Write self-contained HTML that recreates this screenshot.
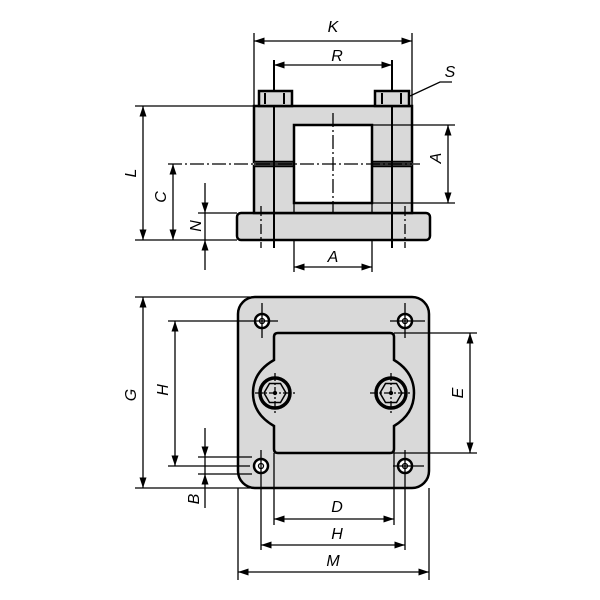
<!DOCTYPE html>
<html><head><meta charset="utf-8"><style>
body{margin:0;background:#fff}
svg{display:block}
text{font-family:"Liberation Sans",sans-serif;font-style:italic;font-size:16px;fill:#000}
</style></head><body>
<svg width="600" height="600" viewBox="0 0 600 600" xmlns="http://www.w3.org/2000/svg">
<defs>
<marker id="a" viewBox="0 0 12 8" refX="12" refY="4" markerWidth="12" markerHeight="7" orient="auto-start-reverse" markerUnits="userSpaceOnUse"><path d="M0,0 L12,4 L0,8z" fill="#000"/></marker>
</defs>
<g stroke="#000" fill="none" stroke-width="1.3">
<rect x="237" y="213" width="193" height="27" rx="4" fill="#d9d9d9" stroke-width="2.5"/>
<path d="M254,106 H412 V162 H254 Z" fill="#d9d9d9" stroke-width="2.5"/>
<path d="M254,166 H412 V213 H254 Z" fill="#d9d9d9" stroke-width="2.5"/>
<rect x="254" y="162" width="158" height="4" fill="#333" stroke="none"/>
<rect x="294" y="125" width="78" height="78" fill="#fff" stroke-width="2.5"/>
<line x1="294" y1="203" x2="294" y2="213"/>
<line x1="372" y1="203" x2="372" y2="213"/>
<line x1="274" y1="60" x2="274" y2="248" stroke-width="2"/>
<line x1="392" y1="60" x2="392" y2="248" stroke-width="2"/>
<rect x="259" y="91" width="33" height="15" fill="#d9d9d9" stroke-width="2.5"/>
<rect x="375" y="91" width="34" height="15" fill="#d9d9d9" stroke-width="2.5"/>
<line x1="265" y1="93" x2="265" y2="104" stroke-width="2"/>
<line x1="284" y1="93" x2="284" y2="104" stroke-width="2"/>
<line x1="382" y1="93" x2="382" y2="104" stroke-width="2"/>
<line x1="401" y1="93" x2="401" y2="104" stroke-width="2"/>
<line x1="168" y1="164" x2="420" y2="164" stroke-dasharray="14,3,2,3"/>
<line x1="333" y1="113" x2="333" y2="213" stroke-dasharray="14,3,2,3"/>
<line x1="261" y1="206" x2="261" y2="248" stroke-dasharray="10,3,2,3"/>
<line x1="405" y1="206" x2="405" y2="248" stroke-dasharray="10,3,2,3"/>
<line x1="254" y1="33" x2="254" y2="106"/><line x1="412" y1="33" x2="412" y2="106"/>
<line x1="254" y1="41" x2="412" y2="41" marker-start="url(#a)" marker-end="url(#a)"/>
<line x1="274" y1="65" x2="392" y2="65" marker-start="url(#a)" marker-end="url(#a)"/>
<polyline points="410,96 440,82 452,82"/>
<line x1="135" y1="106" x2="254" y2="106"/><line x1="135" y1="240" x2="237" y2="240"/>
<line x1="143" y1="106" x2="143" y2="240" marker-start="url(#a)" marker-end="url(#a)"/>
<line x1="173" y1="164" x2="173" y2="240" marker-start="url(#a)" marker-end="url(#a)"/>
<line x1="198" y1="213" x2="237" y2="213"/>
<line x1="205" y1="183" x2="205" y2="213" marker-end="url(#a)"/>
<line x1="205" y1="270" x2="205" y2="240" marker-end="url(#a)"/>
<line x1="205" y1="213" x2="205" y2="240"/>
<line x1="372" y1="125" x2="455" y2="125"/><line x1="372" y1="203" x2="455" y2="203"/>
<line x1="448" y1="125" x2="448" y2="203" marker-start="url(#a)" marker-end="url(#a)"/>
<line x1="294" y1="240" x2="294" y2="272"/><line x1="372" y1="240" x2="372" y2="272"/>
<line x1="294" y1="267" x2="372" y2="267" marker-start="url(#a)" marker-end="url(#a)"/>

<rect x="238" y="297" width="191" height="191" rx="17" fill="#d9d9d9" stroke-width="2.5"/>
<path d="M278,333 H390 Q394,333 394,337 V360 Q414,372 414,393 Q414,414 394,426 V449 Q394,453 390,453 H278 Q274,453 274,449 V426 Q253,414 253,393 Q253,372 274,360 V337 Q274,333 278,333 Z" fill="#d9d9d9" stroke-width="2.5"/>
<circle cx="275" cy="393" r="15" fill="#d9d9d9" stroke-width="3.5"/>
<circle cx="391" cy="393" r="15" fill="#d9d9d9" stroke-width="3.5"/>
<polygon points="264,393 269.5,383.5 280.5,383.5 286,393 280.5,402.5 269.5,402.5" stroke-width="1.5"/>
<polygon points="380,393 385.5,383.5 396.5,383.5 402,393 396.5,402.5 385.5,402.5" stroke-width="1.5"/>
<g stroke-dasharray="8,2,2,2">
<line x1="255" y1="393" x2="296" y2="393"/><line x1="275" y1="373" x2="275" y2="413"/>
<line x1="370" y1="393" x2="411" y2="393"/><line x1="391" y1="373" x2="391" y2="413"/>
</g>
<circle cx="275" cy="393" r="1.5" fill="#000"/><circle cx="391" cy="393" r="1.5" fill="#000"/>
<g fill="#fff" stroke-width="2.5">
<circle cx="262" cy="321" r="7"/><circle cx="405" cy="321" r="7"/>
<circle cx="261" cy="466" r="7"/><circle cx="405" cy="466" r="7"/>
</g>
<g>
<circle cx="262" cy="321" r="2.5"/><circle cx="405" cy="321" r="2.5"/>
<circle cx="261" cy="466" r="2.5"/><circle cx="405" cy="466" r="2.5"/>
<line x1="250" y1="321" x2="278" y2="321"/><line x1="262" y1="303" x2="262" y2="338"/>
<line x1="390" y1="321" x2="425" y2="321"/><line x1="405" y1="303" x2="405" y2="338"/>
<line x1="405" y1="450" x2="405" y2="550"/><line x1="393" y1="466" x2="424" y2="466"/>
<line x1="261" y1="450" x2="261" y2="550"/>
</g>
<line x1="135" y1="297" x2="250" y2="297"/><line x1="135" y1="488" x2="250" y2="488"/>
<line x1="143" y1="297" x2="143" y2="488" marker-start="url(#a)" marker-end="url(#a)"/>
<line x1="168" y1="321" x2="250" y2="321"/><line x1="168" y1="466" x2="250" y2="466"/>
<line x1="175" y1="321" x2="175" y2="466" marker-start="url(#a)" marker-end="url(#a)"/>
<line x1="198" y1="457" x2="252" y2="457"/><line x1="198" y1="474" x2="252" y2="474"/>
<line x1="205" y1="428" x2="205" y2="457" marker-end="url(#a)"/>
<line x1="205" y1="508" x2="205" y2="474" marker-end="url(#a)"/>
<line x1="205" y1="457" x2="205" y2="474"/>
<line x1="394" y1="333" x2="477" y2="333"/><line x1="394" y1="453" x2="477" y2="453"/>
<line x1="470" y1="333" x2="470" y2="453" marker-start="url(#a)" marker-end="url(#a)"/>
<line x1="274" y1="453" x2="274" y2="525"/><line x1="394" y1="453" x2="394" y2="525"/>
<line x1="274" y1="519" x2="394" y2="519" marker-start="url(#a)" marker-end="url(#a)"/>
<line x1="261" y1="545" x2="405" y2="545" marker-start="url(#a)" marker-end="url(#a)"/>
<line x1="238" y1="488" x2="238" y2="580"/><line x1="429" y1="488" x2="429" y2="580"/>
<line x1="238" y1="572" x2="429" y2="572" marker-start="url(#a)" marker-end="url(#a)"/>
</g>
<text x="333" y="32" text-anchor="middle">K</text>
<text x="337" y="61" text-anchor="middle">R</text>
<text x="450" y="77" text-anchor="middle">S</text>
<text x="333" y="262" text-anchor="middle">A</text>
<text transform="translate(136,173) rotate(-90)" text-anchor="middle">L</text>
<text transform="translate(166,197) rotate(-90)" text-anchor="middle">C</text>
<text transform="translate(201,226) rotate(-90)" text-anchor="middle">N</text>
<text transform="translate(441,158) rotate(-90)" text-anchor="middle">A</text>
<text transform="translate(136,395) rotate(-90)" text-anchor="middle">G</text>
<text transform="translate(168,390) rotate(-90)" text-anchor="middle">H</text>
<text transform="translate(199,499) rotate(-90)" text-anchor="middle">B</text>
<text transform="translate(463,393) rotate(-90)" text-anchor="middle">E</text>
<text x="337" y="512" text-anchor="middle">D</text>
<text x="337" y="539" text-anchor="middle">H</text>
<text x="333" y="566" text-anchor="middle">M</text>
</svg>
</body></html>
